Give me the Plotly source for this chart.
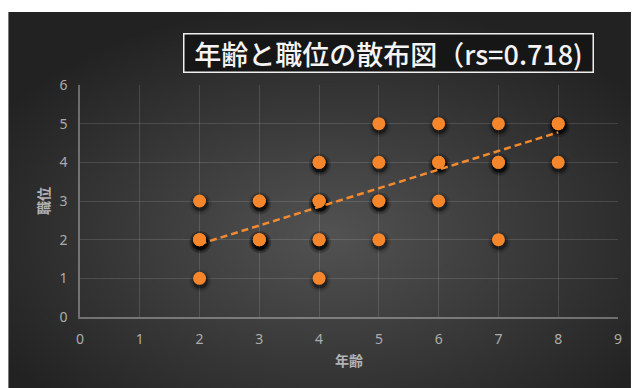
import base64, struct, zlib, math
import plotly.graph_objects as go

# ---- data ----
age = [2, 2, 2, 3, 3, 4, 4, 4, 4, 5, 5, 5, 5, 6, 6, 6, 7, 7, 7, 8, 8]
rank = [1, 2, 3, 2, 3, 1, 2, 3, 4, 2, 3, 4, 5, 3, 4, 5, 2, 4, 5, 4, 5]
count = [1, 3, 1, 3, 2, 1, 2, 3, 2, 1, 2, 1, 1, 1, 2, 1, 1, 2, 1, 1, 2]
trend_slope = 0.482
trend_intercept = 0.92
title_text = "年齢と職位の散布図（rs=0.718)"
x_title = "年齢"
y_title = "職位"

# expand duplicates
xs, ys = [], []
for a, r, c in zip(age, rank, count):
    xs += [a] * c
    ys += [r] * c

W, H = 634, 388
L, R, T, B = 80, 13, 85, 71
PW, PH = W - L - R, H - T - B
X0, Y0 = 8, 12  # dark panel origin


def gradient_png(w, h, cx, cy, c_in, c_out):
    rows = []
    for j in range(h):
        row = bytearray([0])
        dy = (j - cy) / (h * 0.62)
        for i in range(w):
            dx = (i - cx) / (w * 0.62)
            d = min(1.0, math.hypot(dx, dy))
            v = c_in + (c_out - c_in) * d
            row.append(int(round(v)))
        rows.append(bytes(row))
    raw = b"".join(rows)

    def chunk(t, data):
        return struct.pack(">I", len(data)) + t + data + struct.pack(">I", zlib.crc32(t + data) & 0xffffffff)

    png = (b"\x89PNG\r\n\x1a\n" + chunk(b"IHDR", struct.pack(">IIBBBBB", w, h, 8, 0, 0, 0, 0))
           + chunk(b"IDAT", zlib.compress(raw, 9)) + chunk(b"IEND", b""))
    return "data:image/png;base64," + base64.b64encode(png).decode()


bw, bh = W - X0, H - Y0
bg = gradient_png(bw, bh, 330 - X0, 235 - Y0, 82, 34)

fig = go.Figure()

# shadows (stacked semi-transparent, darker where points overlap)
px_x = 9 / PW
px_y = 6 / PH
sx = [v + 0.8 * px_x for v in xs]
sy = [v - 2.5 * px_y for v in ys]
for size, op in [(22, 0.10), (18, 0.18), (15, 0.35)]:
    fig.add_trace(go.Scatter(x=sx, y=sy, mode="markers", hoverinfo="skip",
                             marker=dict(size=size, color="black", opacity=op, line=dict(width=0))))

# trendline
tx = [min(age), max(age)]
ty = [trend_slope * v + trend_intercept for v in tx]
fig.add_trace(go.Scatter(x=tx, y=ty, mode="lines",
                         line=dict(color="#F28A30", width=2.5, dash="7px,4px")))

# points
fig.add_trace(go.Scatter(x=xs, y=ys, mode="markers",
                         marker=dict(size=13, color="#F5862B", line=dict(width=0))))

grid = "rgba(255,255,255,0.13)"
axl = "rgba(255,255,255,0.32)"
tickfont = dict(family="Noto Sans, DejaVu Sans, sans-serif", size=14, color="#acacac")
titlefont = dict(family="Noto Sans CJK JP, sans-serif", size=14, color="#b3b3b3", weight="bold")

fig.update_layout(
    width=W, height=H,
    margin=dict(l=L, r=R, t=T, b=B),
    paper_bgcolor="white",
    plot_bgcolor="rgba(0,0,0,0)",
    showlegend=False,
    images=[dict(source=bg, xref="paper", yref="paper",
                 x=-(L - X0) / PW, y=1 + (T - Y0) / PH,
                 sizex=bw / PW, sizey=bh / PH,
                 xanchor="left", yanchor="top", sizing="stretch", layer="below")],
    xaxis=dict(range=[0, 9], dtick=1, showgrid=True, gridcolor=grid, gridwidth=1,
               zeroline=False, showline=True, linecolor=axl, linewidth=1.5,
               ticks="outside", ticklen=8, tickcolor="rgba(0,0,0,0)",
               tickfont=tickfont, title=dict(text=x_title, font=titlefont, standoff=10)),
    yaxis=dict(range=[0, 6], dtick=1, showgrid=True, gridcolor=grid, gridwidth=1,
               zeroline=False, showline=True, linecolor=axl, linewidth=1.5,
               ticks="outside", ticklen=8, tickcolor="rgba(0,0,0,0)",
               tickfont=tickfont, title=dict(text=y_title, font=titlefont, standoff=7)),
    annotations=[dict(text=title_text, xref="paper", yref="paper",
                      x=(390.5 - L) / PW, y=1 + (T - 52.5) / PH,
                      xanchor="center", yanchor="middle", showarrow=False,
                      width=406, height=35, align="center",
                      bgcolor="#161616", bordercolor="#f0f0f0", borderwidth=1.5, borderpad=1,
                      font=dict(family="Noto Sans CJK JP, sans-serif", size=27, color="#f4f4f4",
                                weight=500))],
)

fig.write_html("out.html")
